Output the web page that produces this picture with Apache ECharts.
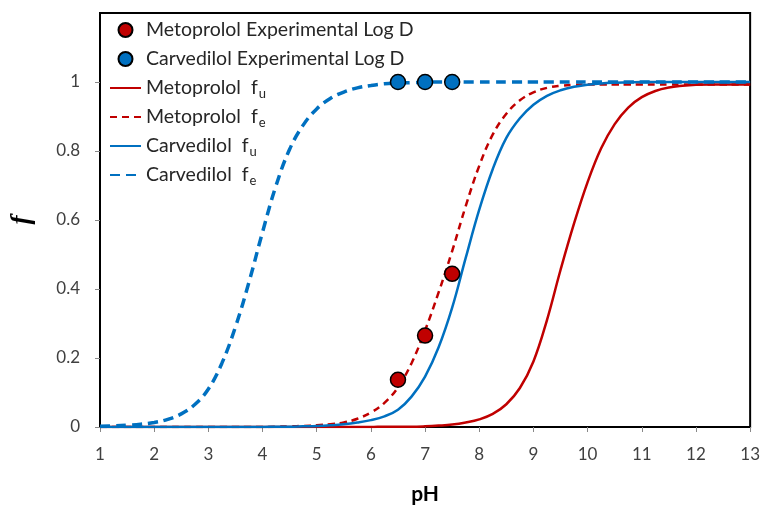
<!DOCTYPE html>
<html>
<head>
<meta charset="utf-8">
<script src="https://cdn.jsdelivr.net/npm/echarts@6/dist/echarts.min.js"></script>
<style>
html,body{margin:0;padding:0;background:#fff;}
#chart{width:763px;height:510px;}
</style>
</head>
<body>
<div id="chart"></div>
<script>
// pH grid (x values)
var pH = [1,1.25,1.5,1.75,2,2.25,2.5,2.75,3,3.25,3.5,3.75,4,4.25,4.5,4.75,5,5.25,5.5,5.75,6,6.25,6.5,6.75,7,7.25,7.5,7.75,8,8.25,8.5,8.75,9,9.25,9.5,9.75,10,10.25,10.5,10.75,11,11.25,11.5,11.75,12,12.25,12.5,12.75,13];

// Metoprolol f_u (solid red)
var metFu = [0,0,0,0,0,0,0,0,0,0,0,0,0,0,0,0,0,0,0,0,0,0.001,0.001,0.001,
  0.002,0.004,0.007,0.013,0.022,0.038,0.066,0.113,0.190,0.310,0.455,0.590,0.710,0.808,0.878,0.926,0.956,0.974,0.984,0.989,0.992,
  0.993,0.993,0.993,0.993];

// Metoprolol f_e (dashed red)
var metFe = [0,0,0,0,0,0,0,0,0,0,0,0,0,0.001,
  0.002,0.003,0.005,0.008,0.013,0.024,0.042,0.070,0.115,0.185,0.280,0.390,0.510,0.640,0.757,0.848,0.908,0.947,0.970,0.983,0.989,0.992,
  0.993,0.993,0.993,0.993,0.993,0.993,0.993,0.993,0.993,0.993,0.993,0.993,0.993];

// Carvedilol f_u (solid blue)
var carvFu = [0,0,0,0,0,0,0,0,0,0,0,0,0,0.001,
  0.001,0.002,0.003,0.005,0.008,0.013,0.020,0.031,0.050,0.088,0.146,0.231,0.346,0.490,0.630,0.748,0.838,0.895,0.934,0.960,0.976,0.986,0.992,0.996,0.998,0.999,
  1,1,1,1,1,1,1,1,1];

// Carvedilol f_e (dashed blue)
var carvFe = [0.002,0.003,0.005,0.008,0.013,0.022,0.038,0.065,0.110,0.185,0.290,0.420,0.565,0.700,0.805,0.875,0.922,0.952,0.971,0.983,0.990,0.995,0.997,0.998,0.999,
  1,1,1,1,1,1,1,1,1,1,1,1,1,1,1,1,1,1,1,1,1,1,1,1];

// Experimental points
var expPH = [6.5, 7.0, 7.5];
var metExp = [0.137, 0.265, 0.444];
var carvExp = [1.0, 1.0, 1.0];

var yTicks = [0, 0.2, 0.4, 0.6, 0.8, 1];
var xTicks = [1,2,3,4,5,6,7,8,9,10,11,12,13];

var RED = '#C00000', BLUE = '#0070C0';
function pairs(xs, ys){ return xs.map(function(x,i){ return [x, ys[i]]; }); }

var names = {
  'Metoprolol Experimental Log D': '{n|Metoprolol Experimental Log D}{s| }',
  'Carvedilol Experimental Log D': '{n|Carvedilol Experimental Log D}{s| }',
  'Metoprolol fu': '{n|Metoprolol  f}{s|u}',
  'Metoprolol fe': '{n|Metoprolol  f}{s|e}',
  'Carvedilol fu': '{n|Carvedilol  f}{s|u}',
  'Carvedilol fe': '{n|Carvedilol  f}{s|e}'
};

var chart = echarts.init(document.getElementById('chart'), null, {renderer:'canvas'});
var FONT = 'Lato';
var TXT = '#262626';
chart.setOption({
  animation: false,
  backgroundColor: '#fff',
  grid: {left: 100, right: 12, top: 13, bottom: 78, show: true, borderColor: '#000', borderWidth: 2, containLabel: false},
  legend: {
    orient: 'vertical', left: 104, top: 13,
    itemWidth: 31, itemHeight: 14, itemGap: 5,
    selectedMode: false,
    data: [
      'Metoprolol Experimental Log D',
      'Carvedilol Experimental Log D',
      {name: 'Metoprolol fu', itemStyle: {opacity: 0}},
      {name: 'Metoprolol fe', itemStyle: {opacity: 0}},
      {name: 'Carvedilol fu', itemStyle: {opacity: 0}},
      {name: 'Carvedilol fe', itemStyle: {opacity: 0}}
    ],
    formatter: function(n){ return names[n]; },
    textStyle: {
      fontFamily: FONT, color: TXT,
      rich: {
        n: {fontFamily: FONT, fontSize: 19.5, color: TXT, lineHeight: 24},
        s: {fontFamily: FONT, fontSize: 13, color: TXT, lineHeight: 13, padding: [11,0,0,1]}
      }
    }
  },
  xAxis: {
    type: 'value', min: 1, max: 13, interval: 1,
    name: 'pH', nameLocation: 'middle', nameGap: 57,
    nameTextStyle: {fontFamily: FONT, fontSize: 21, fontWeight: 'bold', color: '#000'},
    axisLine: {show: true, lineStyle: {color: '#000', width: 2}},
    axisTick: {show: true, length: 5, lineStyle: {color: '#888'}},
    axisLabel: {fontFamily: FONT, fontSize: 17, color: '#404040', margin: 19, customValues: xTicks},
    splitLine: {show: false}
  },
  yAxis: {
    type: 'value', min: 0, max: 1.2, interval: 0.2,
    name: 'f', nameLocation: 'middle', nameGap: 64, nameRotate: 90,
    nameTextStyle: {fontFamily: 'Liberation Serif', fontSize: 27, fontWeight: 'bold', fontStyle: 'italic', color: '#000'},
    axisLine: {show: true, lineStyle: {color: '#000', width: 2}},
    axisTick: {show: true, length: 5, lineStyle: {color: '#888'}, customValues: yTicks},
    axisLabel: {fontFamily: FONT, fontSize: 17, color: '#404040', margin: 20, customValues: yTicks},
    splitLine: {show: false}
  },
  series: [
    {name: 'Metoprolol fu', type: 'line', data: pairs(pH, metFu), symbol: 'none', smooth: 0.4, z: 2,
     lineStyle: {color: RED, width: 2.5}, itemStyle: {color: RED}},
    {name: 'Metoprolol fe', type: 'line', data: pairs(pH, metFe), symbol: 'none', smooth: 0.4, z: 2,
     lineStyle: {color: RED, width: 2.5, type: [7,5]}, itemStyle: {color: RED}},
    {name: 'Carvedilol fu', type: 'line', data: pairs(pH, carvFu), symbol: 'none', smooth: 0.4, z: 2,
     lineStyle: {color: BLUE, width: 2.5}, itemStyle: {color: BLUE}},
    {name: 'Carvedilol fe', type: 'line', data: pairs(pH, carvFe), symbol: 'none', smooth: 0.4, z: 2,
     lineStyle: {color: BLUE, width: 3.5, type: [10,6]}, itemStyle: {color: BLUE}},
    {name: 'Metoprolol Experimental Log D', type: 'scatter', data: pairs(expPH, metExp), symbol: 'circle', symbolSize: 15, z: 5,
     itemStyle: {color: RED, borderColor: '#000', borderWidth: 1.5, opacity: 1}},
    {name: 'Carvedilol Experimental Log D', type: 'scatter', data: pairs(expPH, carvExp), symbol: 'circle', symbolSize: 15, z: 5,
     itemStyle: {color: BLUE, borderColor: '#000', borderWidth: 1.5, opacity: 1}}
  ]
});
</script>
</body>
</html>
